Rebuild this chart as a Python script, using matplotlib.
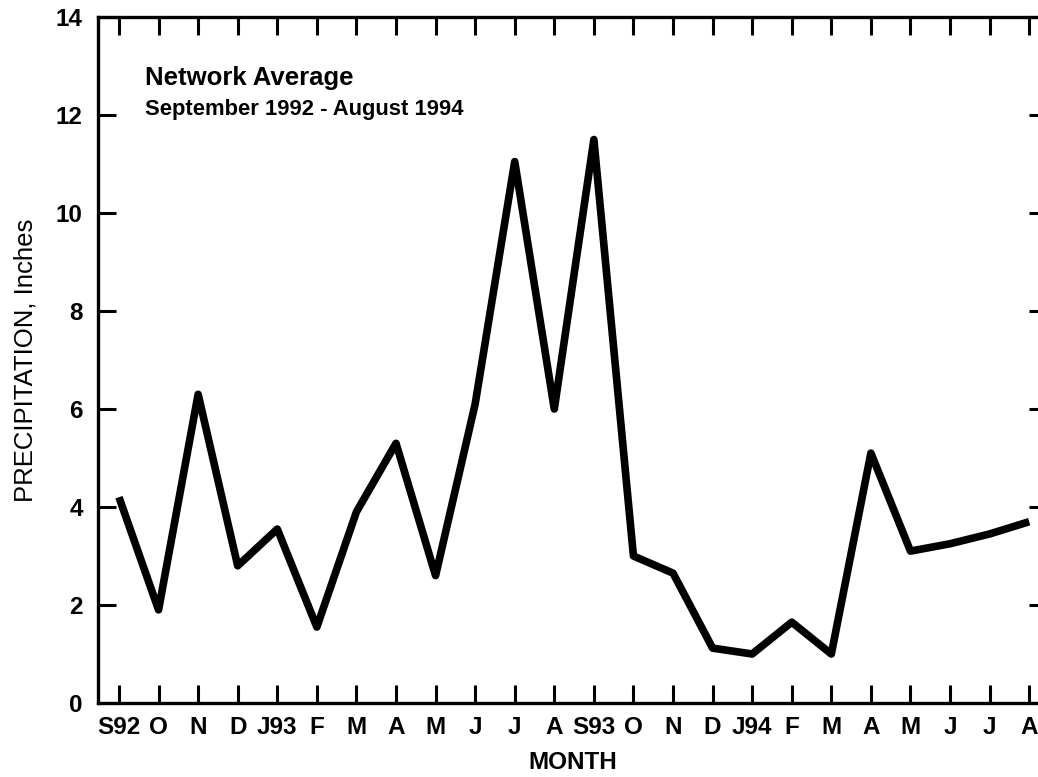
import matplotlib
matplotlib.use('Agg')
import matplotlib.pyplot as plt
import numpy as np

plt.rcParams['font.family'] = ['Liberation Sans', 'DejaVu Sans']

# monthly network average precipitation, Sep 1992 - Aug 1994
months = ['S92', 'O', 'N', 'D', 'J93', 'F', 'M', 'A', 'M', 'J', 'J', 'A',
          'S93', 'O', 'N', 'D', 'J94', 'F', 'M', 'A', 'M', 'J', 'J', 'A']
precip = [4.2, 1.9, 6.3, 2.8, 3.55, 1.55, 3.9, 5.3, 2.6, 6.1, 11.05, 6.0,
          11.5, 3.0, 2.65, 1.12, 1.0, 1.65, 1.0, 5.1, 3.1, 3.25, 3.45, 3.7]
yticks = [0, 2, 4, 6, 8, 10, 12, 14]

W, H = 1038, 777
fig = plt.figure(figsize=(W / 100, H / 100), dpi=100)
# right spine is cut off by the page edge in the original scan
ax = fig.add_axes([98 / W, (H - 703) / H, 949 / W, 686 / H])

x = np.arange(len(months))
ax.plot(x, precip, color='black', lw=5.5, solid_joinstyle='round',
        solid_capstyle='butt')

ax.set_xlim(-0.53, 23.45)
ax.set_ylim(0, 14)
ax.set_xticks(x)
ax.set_xticklabels(months)
ax.set_yticks(yticks)
ax.set_yticklabels([str(v) for v in yticks])

ax.tick_params(axis='both', direction='in', length=13, width=2.2,
               top=True, right=True, labelsize=17.5, color='black')
ax.tick_params(axis='x', pad=9)
ax.tick_params(axis='y', pad=11)
for lab in ax.get_xticklabels() + ax.get_yticklabels():
    lab.set_fontweight('bold')

for s in ax.spines.values():
    s.set_linewidth(2.4)

ax.set_xlabel('MONTH', fontsize=17.5, fontweight='bold', labelpad=9)
ax.set_ylabel('PRECIPITATION, Inches', fontsize=18.5, labelpad=13)

ax.text(0.0495, 0.901, 'Network Average', transform=ax.transAxes,
        fontsize=18.5, fontweight='bold', va='baseline', ha='left')
ax.text(0.0495, 0.857, 'September 1992 - August 1994', transform=ax.transAxes,
        fontsize=15.8, fontweight='bold', va='baseline', ha='left')

fig.savefig('out.png', dpi=100)
